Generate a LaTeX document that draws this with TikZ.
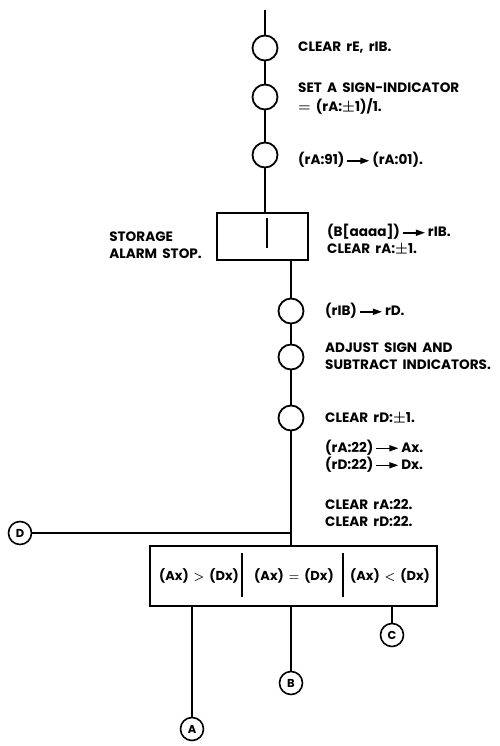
\documentclass[tikz,border=0pt]{standalone}
\usepackage{fontspec}
\setmainfont{Poppins}[WordSpace=1.8]
\usetikzlibrary{arrows.meta}

\tikzset{
  flow/.style={line width=1.8pt},
  op/.style={circle, draw, line width=1.8pt, minimum size=25pt, inner sep=0pt},
  conn/.style={circle, draw, line width=1.6pt, minimum size=23pt, inner sep=0pt, font=\fontsize{11.5}{11.5}\selectfont\bfseries},
  note/.style={anchor=west, align=left, inner sep=0pt, font=\fontsize{13.6}{17}\selectfont\bfseries\boldmath},
  frame/.style={draw, line width=2.2pt, inner sep=0pt},
  cmptext/.style={inner sep=0pt, font=\fontsize{13}{16}\selectfont\bfseries\boldmath},
  divider/.style={line width=2.4pt},
}
\newcommand\goesto{\tikz[baseline=0pt]\draw[line width=1.5pt,-{Triangle[length=9pt,width=6pt]}] (0pt,4pt) -- (22pt,4pt);}

\begin{document}
\begin{tikzpicture}[x=1pt,y=-1pt]
\useasboundingbox (0,0) rectangle (500,746);

% upper chain
\coordinate (top) at (265,10);
\node[op] (c1) at (265,48) {};
\node[op] (c2) at (265,97) {};
\node[op] (c3) at (265,155) {};
\node[note] (t1) at (298,48) {CLEAR rE, rIB.};
\node[note] (t2) at (298,99) {SET A SIGN-INDICATOR\\[2pt]$=$ (rA:$\pm$1)/1.};
\node[note] (t3) at (298,160) {(rA:91)\,\goesto\,(rA:01).};

% storage alarm box
\node[frame, minimum width=91pt, minimum height=47pt] (store) at (262.5,236.5) {};
\draw[divider] (267,218) -- (267,248);
\node[note, anchor=east] (alarm) at (202,245) {STORAGE\\ALARM STOP.};
\node[note] (t5) at (327,240) {(B[aaaa])\,\goesto\,rIB.\\CLEAR rA:$\pm$1.};

% lower chain
\node[op] (c4) at (291,311) {};
\node[op] (c5) at (291,357) {};
\node[op] (c6) at (291,418) {};
\node[note] (t6) at (325,311) {(rIB)\,\goesto\,rD.};
\node[note] (t7) at (325,356) {ADJUST SIGN AND\\SUBTRACT INDICATORS.};
\node[note] (t8) at (325,418) {CLEAR rD:$\pm$1.};
\node[note] (t9) at (325,456) {(rA:22)\,\goesto\,Ax.\\(rD:22)\,\goesto\,Dx.};
\node[note] (t10) at (325,513) {CLEAR rA:22.\\CLEAR rD:22.};

% comparison box
\node[frame, minimum width=287pt, minimum height=60pt] (cmp) at (293.5,576) {};
\node[cmptext] (gt) at (199,576) {(Ax) $>$ (Dx)};
\node[cmptext] (eq) at (294,576) {(Ax) $=$ (Dx)};
\node[cmptext] (lt) at (390,576) {(Ax) $<$ (Dx)};
\draw[divider] (242,553) -- (242,597);
\draw[divider] (343,553) -- (343,597);

% connectors
\node[conn] (d) at (20,533) {D};
\node[conn] (a) at (192,729) {A};
\node[conn] (b) at (291,683) {B};
\node[conn] (c) at (392,635) {C};

\draw[flow] (top) -- (c1) -- (c2) -- (c3) -- (c3 |- store.north);
\draw[flow] (store.south -| c4) -- (c4) -- (c5) -- (c6) -- (c6 |- cmp.north);
\draw[flow] (d) -- (d -| c6);
\draw[flow] (cmp.south -| a) -- (a);
\draw[flow] (cmp.south -| b) -- (b);
\draw[flow] (cmp.south -| c) -- (c);

\end{tikzpicture}
\end{document}
